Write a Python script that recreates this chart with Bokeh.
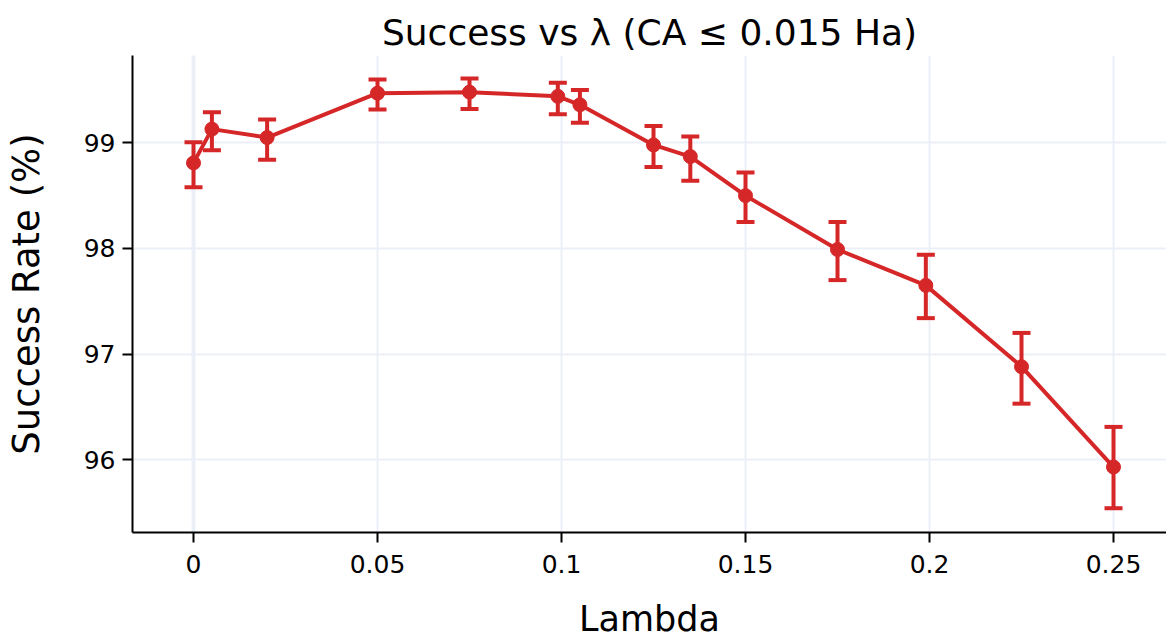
from bokeh.plotting import figure
from bokeh.models import ColumnDataSource, Whisker, TeeHead, Range1d, FixedTicker, Span
from bokeh.embed import file_html
from bokeh.resources import INLINE

# Success rate per lambda with asymmetric confidence bounds
lam = [0, 0.005, 0.02, 0.05, 0.075, 0.099, 0.105, 0.125, 0.135, 0.15, 0.175, 0.199, 0.225, 0.25]
success = [98.81, 99.13, 99.05, 99.47, 99.48, 99.44, 99.36, 98.98, 98.87, 98.50, 97.99, 97.65, 96.88, 95.93]
upper = [99.006, 99.29, 99.22, 99.60, 99.61, 99.57, 99.50, 99.16, 99.06, 98.72, 98.25, 97.94, 97.20, 96.31]
lower = [98.58, 98.93, 98.84, 99.315, 99.32, 99.27, 99.19, 98.77, 98.64, 98.25, 97.70, 97.34, 96.53, 95.54]

x_ticks = [0, 0.05, 0.1, 0.15, 0.2, 0.25]
x_tick_labels = ["0", "0.05", "0.1", "0.15", "0.2", "0.25"]
y_ticks = [96, 97, 98, 99]

FONT = "DejaVu Sans"
RED = "#d62728"
GRID = "#ebf0f8"

src = ColumnDataSource(dict(lam=lam, success=success, upper=upper, lower=lower))

p = figure(
    width=1166, height=641,
    output_backend="svg", toolbar_location=None,
    x_range=Range1d(-0.01658, 0.2644), y_range=Range1d(95.31, 99.827),
    min_border_left=132, min_border_right=0, min_border_top=55, min_border_bottom=109,
    title="Success vs λ (CA ≤ 0.015 Ha)",
)
p.outline_line_color = None
p.background_fill_color = "white"
p.border_fill_color = "white"

p.title.align = "center"
p.title.text_font = FONT
p.title.text_font_size = "36px"
p.title.text_font_style = "normal"
p.title.text_color = "black"
p.title.standoff = 6

# grids
p.xgrid.ticker = FixedTicker(ticks=x_ticks)
p.ygrid.ticker = FixedTicker(ticks=y_ticks)
for g in (p.xgrid, p.ygrid):
    g.grid_line_color = GRID
    g.grid_line_width = 2
p.add_layout(Span(location=0, dimension="height", line_color=GRID, line_width=4, level="underlay"))

# axes
p.xaxis.ticker = FixedTicker(ticks=x_ticks)
p.xaxis.major_label_overrides = {t: s for t, s in zip(x_ticks, x_tick_labels)}
p.yaxis.ticker = FixedTicker(ticks=y_ticks)
p.xaxis.axis_label = "Lambda"
p.yaxis.axis_label = "Success Rate (%)"
for ax in (p.xaxis, p.yaxis):
    ax.axis_line_color = "black"
    ax.axis_line_width = 2
    ax.major_tick_line_color = "black"
    ax.major_tick_line_width = 2
    ax.major_tick_out = 10
    ax.major_tick_in = 0
    ax.minor_tick_line_color = None
    ax.major_label_text_font = FONT
    ax.major_label_text_font_size = "25px"
    ax.major_label_text_color = "black"
    ax.axis_label_text_font = FONT
    ax.axis_label_text_font_style = "normal"
    ax.axis_label_text_color = "black"
p.xaxis.axis_label_text_font_size = "35px"
p.yaxis.axis_label_text_font_size = "37px"
p.xaxis.major_label_standoff = 12
p.yaxis.major_label_standoff = 7
p.xaxis.axis_label_standoff = 23
p.yaxis.axis_label_standoff = 33

# error bars
whisker = Whisker(
    source=src, base="lam", upper="upper", lower="lower", dimension="height",
    line_color=RED, line_width=4,
    upper_head=TeeHead(size=18, line_color=RED, line_width=4),
    lower_head=TeeHead(size=18, line_color=RED, line_width=4),
)
p.add_layout(whisker)

p.line("lam", "success", source=src, line_color=RED, line_width=4)
p.scatter("lam", "success", source=src, size=14, fill_color=RED, line_color=RED)

open("out.html", "w").write(file_html(p, INLINE))
